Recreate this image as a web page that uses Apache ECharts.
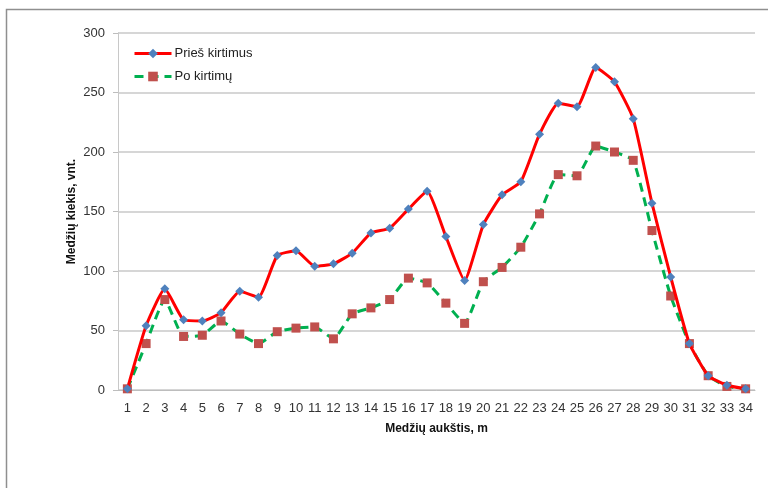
<!DOCTYPE html>
<html>
<head>
<meta charset="utf-8">
<script src="https://cdn.jsdelivr.net/npm/echarts@6/dist/echarts.min.js"></script>
<style>
html,body{margin:0;padding:0;background:#fff;}
#c{width:768px;height:488px;}
</style>
</head>
<body>
<div id="c"></div>
<script>
const categories = ['1','2','3','4','5','6','7','8','9','10','11','12','13','14','15','16','17','18','19','20','21','22','23','24','25','26','27','28','29','30','31','32','33','34'];
const priesKirtimus = [1,54,85,59,58,65,83,78,113,117,104,106,115,132,136,152,167,129,92,139,164,175,215,241,238,271,259,228,157,95,39,12,4,1];
const poKirtimu = [1,39,76,45,46,58,47,39,49,52,53,43,64,69,76,94,90,73,56,91,103,120,148,181,180,205,200,193,134,79,39,12,3,1];
const seriesNames = ['Prieš kirtimus','Po kirtimų'];
const yTicks = {min:0, max:300, interval:50};

const chart = echarts.init(document.getElementById('c'), null, {renderer:'canvas'});
const labelFont = '"Liberation Sans Narrow","Liberation Sans",sans-serif';
chart.setOption({
  animation:false,
  backgroundColor:'#fff',
  graphic:[{
    type:'rect', left:4, top:7, shape:{width:800, height:520},
    style:{fill:'none', stroke:'#8f8f8f', lineWidth:1.5}, silent:true
  }],
  grid:{left:118, right:13, top:33, bottom:98, containLabel:false},
  legend:{
    left:128, top:42, orient:'vertical', itemGap:10, itemWidth:37, itemHeight:12,
    lineStyle:{width:3},
    textStyle:{fontFamily:'"Liberation Sans",sans-serif', fontSize:13, color:'#222', padding:[0,0,0,-2]},
    data:seriesNames
  },
  xAxis:{
    type:'category', data:categories, boundaryGap:true,
    name:'Medžių aukštis, m', nameLocation:'middle', nameGap:33,
    nameTextStyle:{fontFamily:'"Liberation Sans",sans-serif', fontWeight:'bold', fontSize:12, color:'#111'},
    axisLine:{show:true, lineStyle:{color:'#bdbdbd', width:1}},
    axisTick:{show:false},
    axisLabel:{interval:0, margin:12, fontFamily:labelFont, fontSize:13, color:'#333'}
  },
  yAxis:{
    type:'value', min:yTicks.min, max:yTicks.max, interval:yTicks.interval,
    name:'Medžių kiekis, vnt.', nameLocation:'middle', nameGap:40, nameMoveOverlap:false,
    nameTextStyle:{fontFamily:'"Liberation Sans",sans-serif', fontWeight:'bold', fontSize:12, color:'#111'},
    axisLine:{show:true, lineStyle:{color:'#c8c8c8', width:1}},
    axisTick:{show:true, length:5, inside:false, lineStyle:{color:'#bdbdbd'}},
    axisLabel:{margin:13, fontFamily:labelFont, fontSize:13, color:'#333'},
    splitLine:{show:true, lineStyle:{color:'#c8c8c8', width:1.5}}
  },
  series:[
    {
      name:seriesNames[0], type:'line', data:priesKirtimus, smooth:0.15,
      symbol:'diamond', symbolSize:9, showAllSymbol:true,
      lineStyle:{color:'#ff0000', width:3},
      itemStyle:{color:'#4f81bd', borderWidth:0},
      z:3
    },
    {
      name:seriesNames[1], type:'line', data:poKirtimu, smooth:0.15,
      symbol:'rect', symbolSize:9, showAllSymbol:true,
      lineStyle:{color:'#00b050', width:3, type:[9,6]},
      itemStyle:{color:'#c0504d', borderWidth:0},
      z:2
    }
  ]
});
</script>
</body>
</html>
